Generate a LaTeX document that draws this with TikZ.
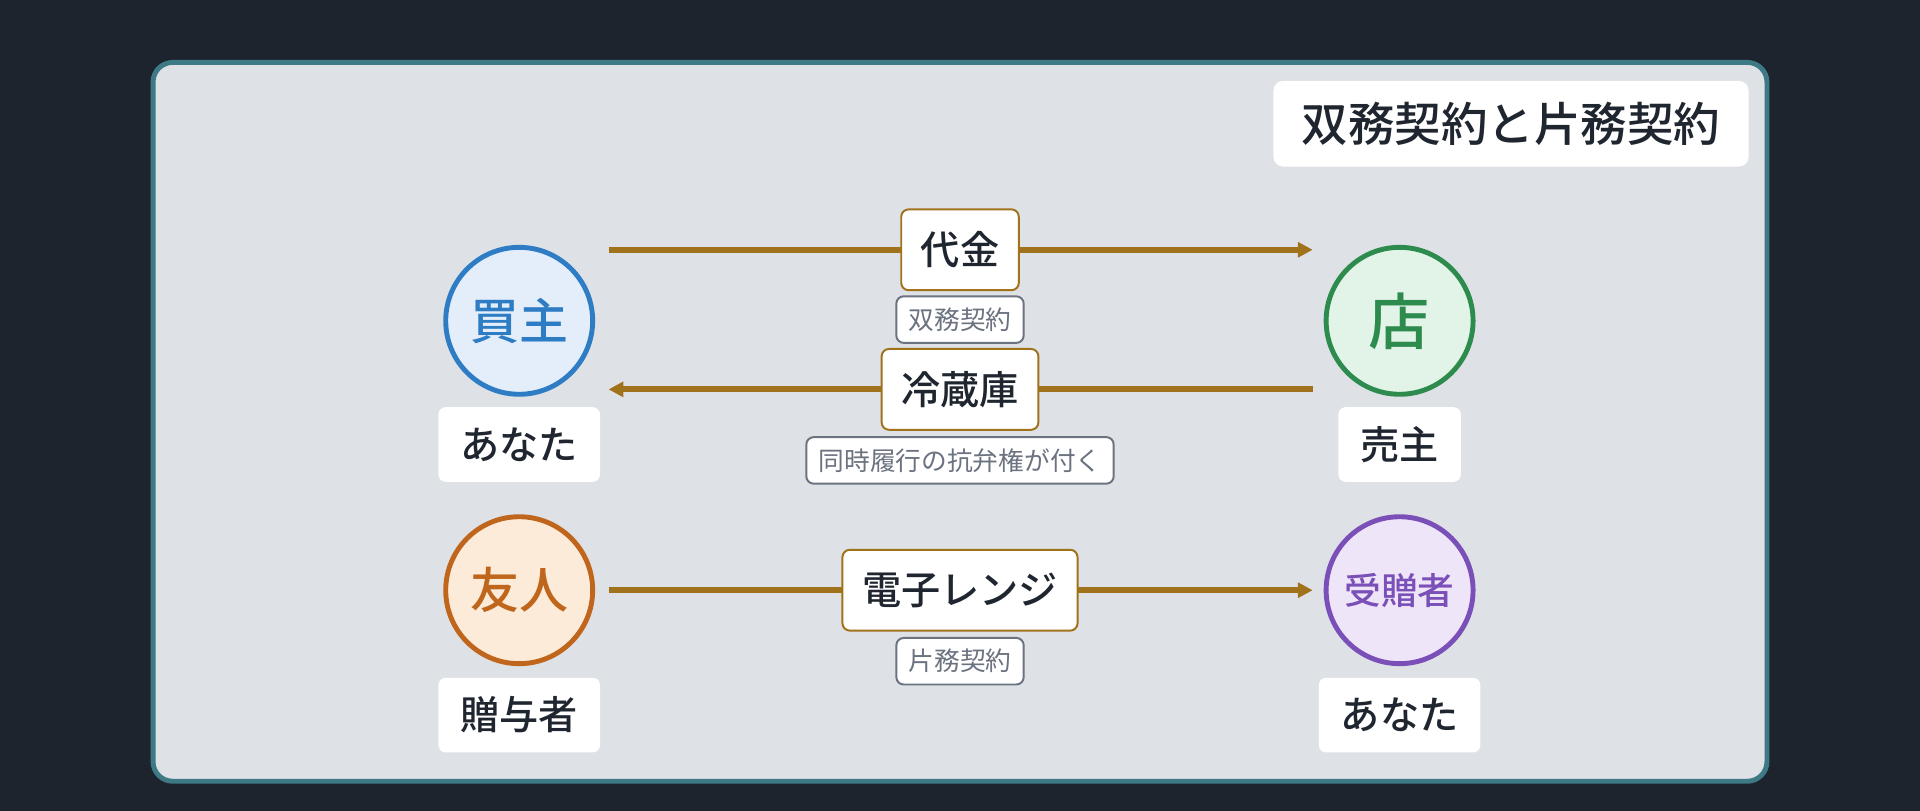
\documentclass[tikz,border=0pt]{standalone}
\usepackage{fontspec}
\setmainfont{Noto Sans CJK JP}[BoldFont={Noto Sans CJK JP Medium}]
\usetikzlibrary{arrows.meta}
\definecolor{bg}{HTML}{1E242E}
\definecolor{panel}{HTML}{DEE1E5}
\definecolor{teal}{HTML}{3E7A86}
\definecolor{arr}{HTML}{A0721C}
\definecolor{ink}{HTML}{1F2630}
\definecolor{gr}{HTML}{6B7280}
\begin{document}
\begin{tikzpicture}[x=0.5pt,y=-0.5pt,
  circ/.style={circle,minimum size=60pt,inner sep=0pt,line width=2pt,font=\fontsize{20}{20}\selectfont\bfseries},
  who/.style={fill=white,rounded corners=3pt,minimum height=30.5pt,inner xsep=9pt,text=ink,font=\fontsize{16}{16}\selectfont\bfseries},
  lab/.style={fill=white,draw=arr,line width=0.8pt,rounded corners=3pt,minimum height=33pt,inner xsep=8pt,text=ink,font=\fontsize{16}{16}\selectfont\bfseries},
  sm/.style={fill=white,draw=gr,line width=0.8pt,rounded corners=3pt,minimum height=19pt,inner ysep=1pt,inner xsep=5pt,text=gr,font=\fontsize{10.5}{10.5}\selectfont},
  ar/.style={draw=arr,line width=2.5pt,-{Triangle[length=6pt,width=6pt]}}]
\fill[bg] (0,0) rectangle (1568,662);
\draw[fill=panel,draw=teal,line width=2pt,rounded corners=8pt] (125,51) rectangle (1443,638);
\node[fill=white,rounded corners=4pt,minimum width=194pt,minimum height=35pt,text=ink,font=\fontsize{19}{19}\selectfont\bfseries] (title) at (1234,101) {双務契約と片務契約};
\node[circ,draw={rgb,255:red,46;green,125;blue,196},fill={rgb,255:red,227;green,238;blue,250},text={rgb,255:red,46;green,125;blue,196}] (buyer) at (424,262) {買主};
\node[circ,draw={rgb,255:red,46;green,139;blue,78},fill={rgb,255:red,226;green,244;blue,232},text={rgb,255:red,46;green,139;blue,78},font=\fontsize{25}{25}\selectfont\bfseries] (shop) at (1143,262) {店};
\node[circ,draw={rgb,255:red,192;green,102;blue,28},fill={rgb,255:red,253;green,235;blue,217},text={rgb,255:red,192;green,102;blue,28}] (friend) at (424,482) {友人};
\node[circ,draw={rgb,255:red,122;green,79;blue,184},fill={rgb,255:red,238;green,229;blue,248},text={rgb,255:red,122;green,79;blue,184},font=\fontsize{15}{15}\selectfont\bfseries] (donee) at (1143,482) {受贈者};
\node[who] (w1) at (424,363) {あなた};
\node[who] (w2) at (1143,363) {売主};
\node[who] (w3) at (424,584) {贈与者};
\node[who] (w4) at (1143,584) {あなた};
\coordinate (a1s) at (497,204); \coordinate (a1e) at (1072,204);
\coordinate (a2s) at (1072,318); \coordinate (a2e) at (497,318);
\coordinate (a3s) at (497,482); \coordinate (a3e) at (1072,482);
\draw[ar] (a1s) -- (a1e);
\draw[ar] (a2s) -- (a2e);
\draw[ar] (a3s) -- (a3e);
\node[lab] (l1) at (784,204) {代金};
\node[sm] (s1) at (784,261) {双務契約};
\node[lab] (l2) at (784,318) {冷蔵庫};
\node[sm] (s2) at (784,376) {同時履行の抗弁権が付く};
\node[lab] (l3) at (784,482) {電子レンジ};
\node[sm] (s3) at (784,540) {片務契約};
\end{tikzpicture}
\end{document}
